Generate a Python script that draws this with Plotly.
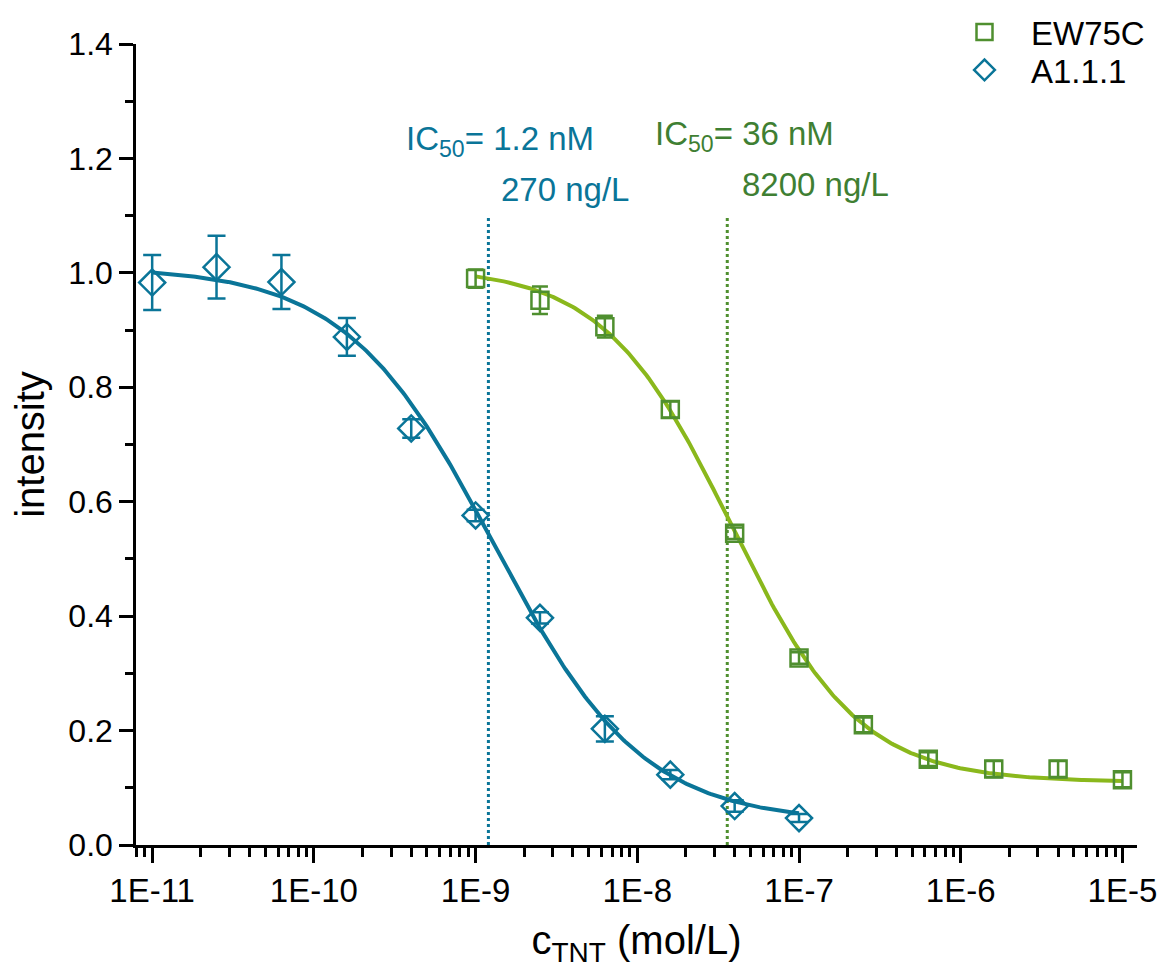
import numpy as np
import plotly.graph_objects as go

# Concentrations (mol/L), 2.5-fold dilution series
conc_a = [1e-11, 2.5e-11, 6.3e-11, 1.6e-10, 4e-10, 1e-9, 2.5e-9, 6.3e-9, 1.6e-8, 4e-8, 1e-7]
conc_e = [1e-9, 2.5e-9, 6.3e-9, 1.6e-8, 4e-8, 1e-7, 2.5e-7, 6.3e-7, 1.6e-6, 4e-6, 1e-5]

# Normalised intensity and standard deviation
int_a = [0.983, 1.010, 0.984, 0.888, 0.728, 0.576, 0.397, 0.203, 0.123, 0.068, 0.047]
err_a = [0.048, 0.055, 0.047, 0.033, 0.016, 0.010, 0.010, 0.022, 0.008, 0.010, 0.007]
int_e = [0.990, 0.952, 0.906, 0.761, 0.545, 0.327, 0.210, 0.150, 0.133, 0.133, 0.114]
err_e = [0.016, 0.024, 0.019, 0.014, 0.010, 0.010, 0.013, 0.012, 0.014, 0.014, 0.013]

# Four-parameter logistic fit parameters: top, bottom, inflection, Hill slope
fit_a = dict(top=1.01, bottom=0.04, c=1.3e-9, p=0.95)
fit_e = dict(top=1.01, bottom=0.11, c=3.8e-8, p=1.1)

ic50_a = 1.2e-9
ic50_e = 3.6e-8

TEAL = "#0a7598"
GREEN_M = "#4f8f2f"
GREEN_L = "#8ab81c"
GREEN_T = "#3f7f33"
FONT = "Liberation Sans, Arial, sans-serif"


def logistic(x, top, bottom, c, p):
    x = np.asarray(x)
    return bottom + (top - bottom) / (1.0 + (x / c) ** p)


xs_a = np.logspace(np.log10(conc_a[0]), np.log10(conc_a[-1]), 300)
xs_e = np.logspace(np.log10(conc_e[0]), np.log10(conc_e[-1]), 300)

fig = go.Figure()

# IC50 markers
fig.add_trace(go.Scatter(x=[ic50_a, ic50_a], y=[0, 1.10], mode="lines",
                         line=dict(color=TEAL, width=3, dash="dot"),
                         showlegend=False, hoverinfo="skip"))
fig.add_trace(go.Scatter(x=[ic50_e, ic50_e], y=[0, 1.10], mode="lines",
                         line=dict(color=GREEN_M, width=3, dash="dot"),
                         showlegend=False, hoverinfo="skip"))

# Fitted curves
fig.add_trace(go.Scatter(x=xs_a, y=logistic(xs_a, **fit_a), mode="lines",
                         line=dict(color=TEAL, width=4), showlegend=False))
fig.add_trace(go.Scatter(x=xs_e, y=logistic(xs_e, **fit_e), mode="lines",
                         line=dict(color=GREEN_L, width=4), showlegend=False))

# Measured points
fig.add_trace(go.Scatter(
    x=conc_e, y=int_e, mode="markers", name="EW75C", legend="legend",
    marker=dict(symbol="square-open", size=17, color=GREEN_M, line=dict(width=2.5, color=GREEN_M)),
    error_y=dict(type="data", array=err_e, color=GREEN_M, thickness=2.5, width=8),
))
fig.add_trace(go.Scatter(
    x=conc_a, y=int_a, mode="markers", name="A1.1.1", legend="legend2",
    marker=dict(symbol="diamond-open", size=20, color=TEAL, line=dict(width=2.5, color=TEAL)),
    error_y=dict(type="data", array=err_a, color=TEAL, thickness=2.5, width=9),
))

decades = [1e-11, 1e-10, 1e-9, 1e-8, 1e-7, 1e-6, 1e-5]
decade_labels = ["1E-11", "1E-10", "1E-9", "1E-8", "1E-7", "1E-6", "1E-5"]
minor_vals = [k * 10.0 ** n for n in range(-12, -4) for k in range(2, 10)]

fig.update_xaxes(
    type="log", range=[-11.1, -4.91],
    tickmode="array", tickvals=decades, ticktext=decade_labels,
    ticks="outside", ticklen=15, tickwidth=2.5, tickcolor="black",
    minor=dict(tickmode="array", tickvals=minor_vals, ticks="outside",
               ticklen=9, tickwidth=2.5, tickcolor="black", showgrid=False),
    showline=True, linecolor="black", linewidth=2.5,
    showgrid=False, zeroline=False,
    tickfont=dict(family=FONT, size=33, color="black"),
    title=dict(text="c<sub>TNT</sub> (mol/L)", font=dict(family=FONT, size=40, color="black"), standoff=18),
)
fig.update_yaxes(
    range=[0, 1.4], dtick=0.2, tickformat=".1f",
    ticks="outside", ticklen=14, tickwidth=2.5, tickcolor="black",
    minor=dict(dtick=0.1, ticks="outside", ticklen=8, tickwidth=2.5, tickcolor="black", showgrid=False),
    showline=True, linecolor="black", linewidth=2.5,
    showgrid=False, zeroline=False,
    tickfont=dict(family=FONT, size=32, color="black"),
    title=dict(text="intensity", font=dict(family=FONT, size=40, color="black"), standoff=12),
)

ann_font = 33
fig.add_annotation(x=-9.444, y=1.231, xref="x", yref="y",
                   text="IC<sub>50</sub>= 1.2 nM", showarrow=False, xanchor="left", yanchor="middle",
                   font=dict(family=FONT, size=ann_font, color=TEAL))
fig.add_annotation(x=-8.858, y=1.146, xref="x", yref="y",
                   text="270 ng/L", showarrow=False, xanchor="left", yanchor="middle",
                   font=dict(family=FONT, size=ann_font, color=TEAL))
fig.add_annotation(x=-7.901, y=1.240, xref="x", yref="y",
                   text="IC<sub>50</sub>= 36 nM", showarrow=False, xanchor="left", yanchor="middle",
                   font=dict(family=FONT, size=ann_font, color=GREEN_T))
fig.add_annotation(x=-7.364, y=1.154, xref="x", yref="y",
                   text="8200 ng/L", showarrow=False, xanchor="left", yanchor="middle",
                   font=dict(family=FONT, size=ann_font, color=GREEN_T))

legend_style = dict(xref="container", yref="container", xanchor="left", yanchor="middle",
                    bgcolor="rgba(0,0,0,0)", font=dict(family=FONT, size=33, color="black"),
                    itemwidth=83)

fig.update_layout(
    width=1164, height=972,
    margin=dict(l=136, r=27, t=44, b=127, autoexpand=False),
    paper_bgcolor="white", plot_bgcolor="white",
    font=dict(family=FONT, color="black"),
    legend=dict(x=938 / 1164, y=1 - 32 / 972, **legend_style),
    legend2=dict(x=938 / 1164, y=1 - 70 / 972, **legend_style),
)

fig.write_html("out.html")
